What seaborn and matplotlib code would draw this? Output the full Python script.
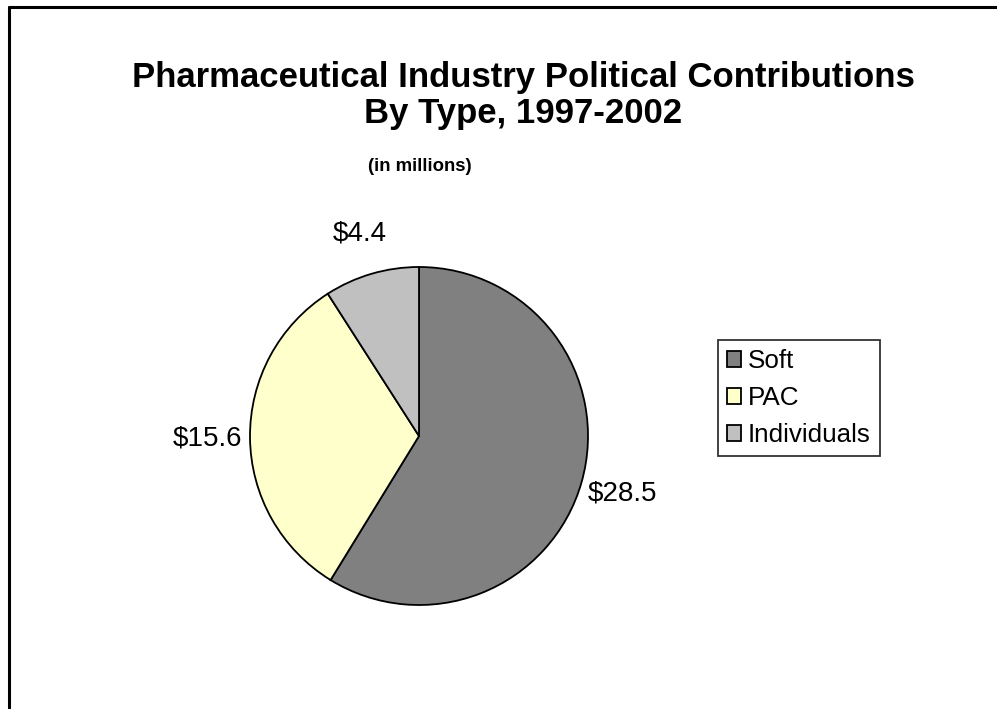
import matplotlib
matplotlib.use("Agg")
import matplotlib.pyplot as plt
import seaborn as sns
from matplotlib.lines import Line2D

# Data
categories = ["Soft", "PAC", "Individuals"]
amounts = [28.5, 15.6, 4.4]
slice_colors = ["#808080", "#FFFFCC", "#C0C0C0"]

sns.set_theme(style="white")
plt.rcParams["font.family"] = ["Liberation Sans", "DejaVu Sans"]
plt.rcParams["text.color"] = "black"

fig = plt.figure(figsize=(9.97, 7.09), dpi=100)
fig.patch.set_facecolor("white")

# pie axes: center ~ (419, 436) px, radius ~169 px
cx, cy, r = 419 / 997, 1 - 436 / 709, 169
ax = fig.add_axes([cx - r / 997, cy - r / 709, 2 * r / 997, 2 * r / 709])

wedges, texts, autotexts = ax.pie(
    amounts,
    colors=slice_colors,
    startangle=90,
    counterclock=False,
    autopct=lambda p: "${:.1f}".format(p * sum(amounts) / 100),
    pctdistance=1.25,
    wedgeprops=dict(edgecolor="black", linewidth=1.3),
    textprops=dict(fontsize=20, color="black"),
)
ax.set_xlim(-1, 1)
ax.set_ylim(-1, 1)
ax.set_aspect("equal")
ax.axis("off")

# Titles
fig.text(523.5 / 997, 1 - 87 / 709, "Pharmaceutical Industry Political Contributions",
         ha="center", va="baseline", fontsize=25, fontweight="bold")
fig.text(523.5 / 997, 1 - 123 / 709, "By Type, 1997-2002",
         ha="center", va="baseline", fontsize=25, fontweight="bold")
fig.text(419.5 / 997, 1 - 171 / 709, "(in millions)",
         ha="center", va="baseline", fontsize=13.4, fontweight="bold")

# Legend
leg = fig.legend(wedges, categories, loc="center left",
                 bbox_to_anchor=(718 / 997, 1 - 398 / 709),
                 fontsize=18.7, frameon=True, fancybox=False,
                 handlelength=0.55, handleheight=0.55, handletextpad=0.25,
                 labelspacing=0.5, borderpad=0.35, borderaxespad=0)
leg.get_frame().set_edgecolor("black")
leg.get_frame().set_linewidth(1.3)
for h in leg.legend_handles:
    h.set_edgecolor("black")
    h.set_linewidth(1.3)

# Outer frame (left and top only)
x0, y0 = 9 / 997, 1 - 7 / 709
fig.add_artist(Line2D([x0, x0], [0, y0], color="black", linewidth=2.2,
                      transform=fig.transFigure))
fig.add_artist(Line2D([x0, 1], [y0, y0], color="black", linewidth=2.2,
                      transform=fig.transFigure))

fig.savefig("out.png", dpi=100)
